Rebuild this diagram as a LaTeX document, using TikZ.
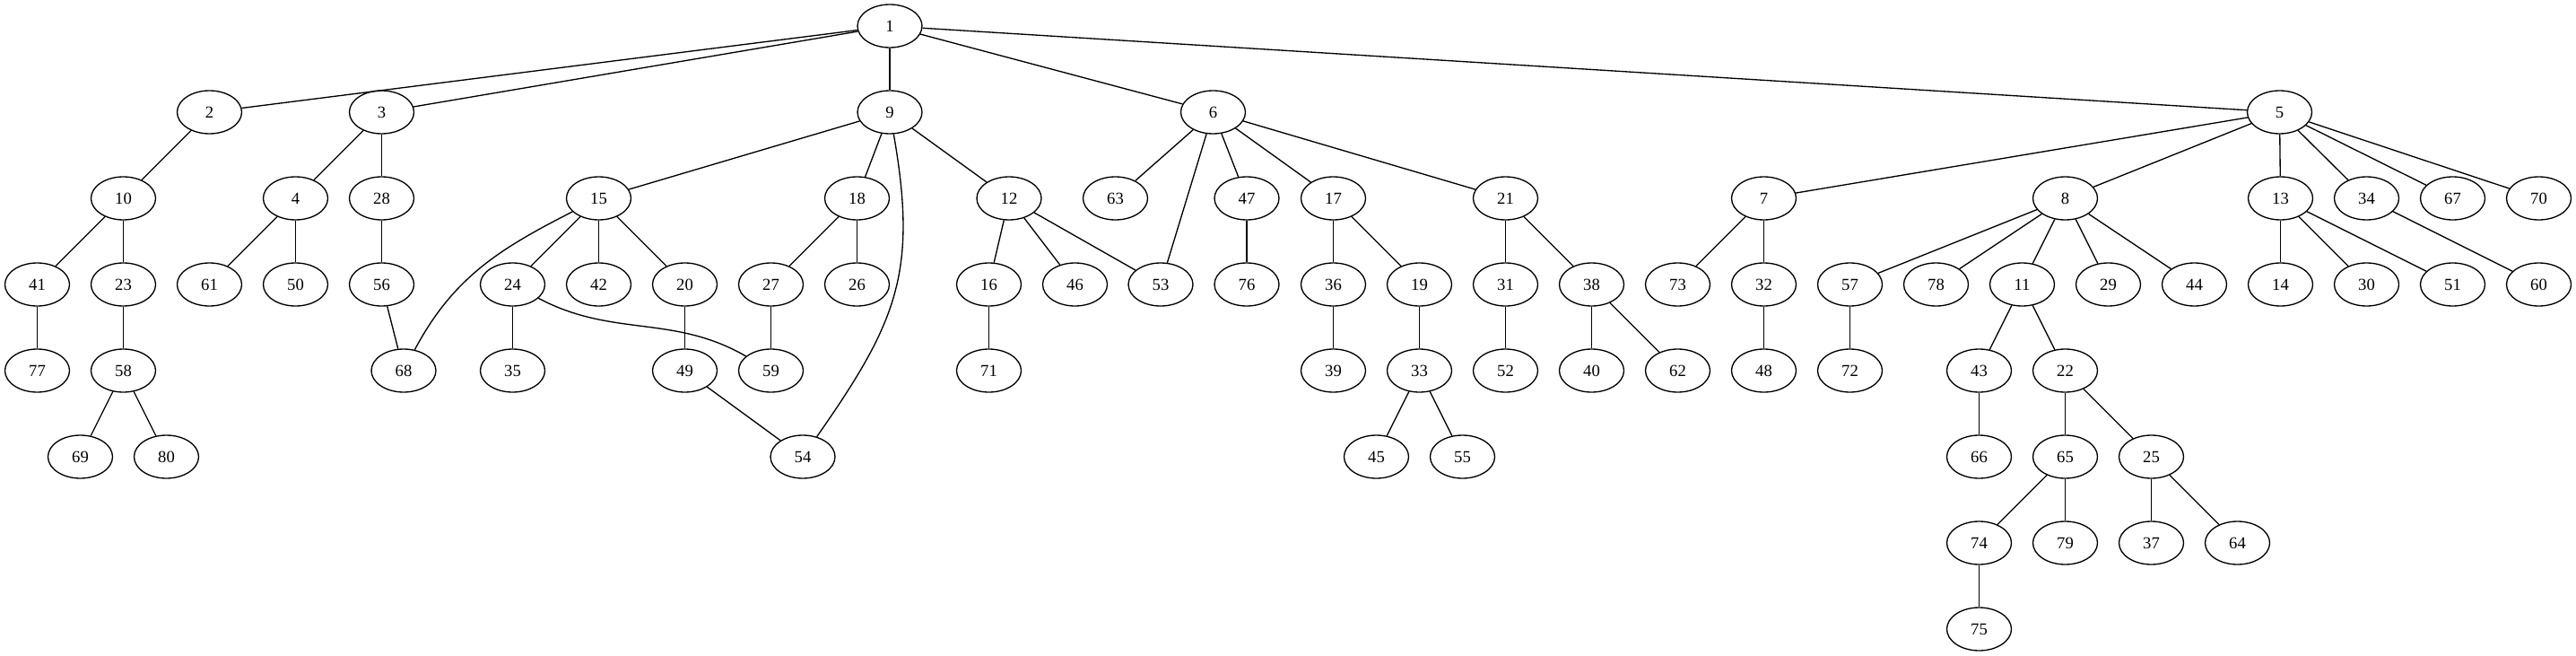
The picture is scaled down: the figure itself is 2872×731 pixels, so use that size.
\documentclass[tikz,border=0pt]{standalone}
\usepackage{fontspec}
\setmainfont{Liberation Serif}
\usetikzlibrary{shapes.geometric}
\begin{document}
\begin{tikzpicture}[x=0.75pt,y=0.75pt,line width=1pt]
\tikzstyle{every node}+=[inner sep=0pt]
\tikzstyle{vertex}=[draw,ellipse,minimum width=54pt,minimum height=36pt,font=\fontsize{14}{16}\selectfont]
\useasboundingbox (0,0) rectangle (2872,-731);
% rank 0 and 1
\draw (992,-29) node [vertex] (n1) {1};
\draw (233.5,-125) node [vertex] (n2) {2};
\draw (425.5,-125) node [vertex] (n3) {3};
\draw (992,-125) node [vertex] (n9) {9};
\draw (1352.5,-125) node [vertex] (n6) {6};
\draw (2541.5,-125) node [vertex] (n5) {5};
% rank 2
\draw (137.5,-221) node [vertex] (n10) {10};
\draw (329.5,-221) node [vertex] (n4) {4};
\draw (425.5,-221) node [vertex] (n28) {28};
\draw (667.5,-221) node [vertex] (n15) {15};
\draw (955.5,-221) node [vertex] (n18) {18};
\draw (1125,-221) node [vertex] (n12) {12};
\draw (1243.5,-221) node [vertex] (n63) {63};
\draw (1390,-221) node [vertex] (n47) {47};
\draw (1486.5,-221) node [vertex] (n17) {17};
\draw (1678.5,-221) node [vertex] (n21) {21};
\draw (1966.5,-221) node [vertex] (n7) {7};
\draw (2302.5,-221) node [vertex] (n8) {8};
\draw (2542.5,-221) node [vertex] (n13) {13};
\draw (2638.5,-221) node [vertex] (n34) {34};
\draw (2734.5,-221) node [vertex] (n67) {67};
\draw (2830.5,-221) node [vertex] (n70) {70};
% rank 3
\draw (41.5,-317) node [vertex] (n41) {41};
\draw (137.5,-317) node [vertex] (n23) {23};
\draw (233.5,-317) node [vertex] (n61) {61};
\draw (329.5,-317) node [vertex] (n50) {50};
\draw (425.5,-317) node [vertex] (n56) {56};
\draw (571.5,-317) node [vertex] (n24) {24};
\draw (667.5,-317) node [vertex] (n42) {42};
\draw (763.5,-317) node [vertex] (n20) {20};
\draw (859.5,-317) node [vertex] (n27) {27};
\draw (955.5,-317) node [vertex] (n26) {26};
\draw (1102.5,-317) node [vertex] (n16) {16};
\draw (1198.5,-317) node [vertex] (n46) {46};
\draw (1294,-317) node [vertex] (n53) {53};
\draw (1390,-317) node [vertex] (n76) {76};
\draw (1486.5,-317) node [vertex] (n36) {36};
\draw (1582.5,-317) node [vertex] (n19) {19};
\draw (1678.5,-317) node [vertex] (n31) {31};
\draw (1774.5,-317) node [vertex] (n38) {38};
\draw (1870.5,-317) node [vertex] (n73) {73};
\draw (1966.5,-317) node [vertex] (n32) {32};
\draw (2062.5,-317) node [vertex] (n57) {57};
\draw (2158.5,-317) node [vertex] (n78) {78};
\draw (2254.5,-317) node [vertex] (n11) {11};
\draw (2350.5,-317) node [vertex] (n29) {29};
\draw (2446.5,-317) node [vertex] (n44) {44};
\draw (2542.5,-317) node [vertex] (n14) {14};
\draw (2638.5,-317) node [vertex] (n30) {30};
\draw (2734.5,-317) node [vertex] (n51) {51};
\draw (2830.5,-317) node [vertex] (n60) {60};
% rank 4
\draw (41.5,-413) node [vertex] (n77) {77};
\draw (137.5,-413) node [vertex] (n58) {58};
\draw (450,-413) node [vertex] (n68) {68};
\draw (571.5,-413) node [vertex] (n35) {35};
\draw (763.5,-413) node [vertex] (n49) {49};
\draw (859.5,-413) node [vertex] (n59) {59};
\draw (1102.5,-413) node [vertex] (n71) {71};
\draw (1486.5,-413) node [vertex] (n39) {39};
\draw (1582.5,-413) node [vertex] (n33) {33};
\draw (1678.5,-413) node [vertex] (n52) {52};
\draw (1774.5,-413) node [vertex] (n40) {40};
\draw (1870.5,-413) node [vertex] (n62) {62};
\draw (1966.5,-413) node [vertex] (n48) {48};
\draw (2062.5,-413) node [vertex] (n72) {72};
\draw (2206.5,-413) node [vertex] (n43) {43};
\draw (2302.5,-413) node [vertex] (n22) {22};
% rank 5 to 7
\draw (89.5,-509) node [vertex] (n69) {69};
\draw (185.5,-509) node [vertex] (n80) {80};
\draw (895,-509) node [vertex] (n54) {54};
\draw (1534.5,-509) node [vertex] (n45) {45};
\draw (1630.5,-509) node [vertex] (n55) {55};
\draw (2206.5,-509) node [vertex] (n66) {66};
\draw (2302.5,-509) node [vertex] (n65) {65};
\draw (2398.5,-509) node [vertex] (n25) {25};
\draw (2206.5,-605) node [vertex] (n74) {74};
\draw (2302.5,-605) node [vertex] (n79) {79};
\draw (2398.5,-605) node [vertex] (n37) {37};
\draw (2494.5,-605) node [vertex] (n64) {64};
\draw (2206.5,-701) node [vertex] (n75) {75};
% edges
\draw [black] (n1) -- (n2);
\draw [black] (n1) -- (n3);
\draw [black] (n1) -- (n9);
\draw [black] (n1) -- (n6);
\draw [black] (n1) -- (n5);
\draw [black] (n2) -- (n10);
\draw [black] (n3) -- (n4);
\draw [black] (n3) -- (n28);
\draw [black] (n9) -- (n15);
\draw [black] (n9) -- (n18);
\draw [black] (n9) -- (n12);
\draw [black] (n9) to [out=-80,in=55,looseness=1.15] (n54);
\draw [black] (n6) -- (n63);
\draw [black] (n6) -- (n53);
\draw [black] (n6) -- (n47);
\draw [black] (n6) -- (n17);
\draw [black] (n6) -- (n21);
\draw [black] (n5) -- (n7);
\draw [black] (n5) -- (n8);
\draw [black] (n5) -- (n13);
\draw [black] (n5) -- (n34);
\draw [black] (n5) -- (n67);
\draw [black] (n5) -- (n70);
\draw [black] (n10) -- (n41);
\draw [black] (n10) -- (n23);
\draw [black] (n4) -- (n61);
\draw [black] (n4) -- (n50);
\draw [black] (n28) -- (n56);
\draw [black] (n15) to [out=-153,in=62] (n68);
\draw [black] (n15) -- (n24);
\draw [black] (n15) -- (n42);
\draw [black] (n15) -- (n20);
\draw [black] (n18) -- (n27);
\draw [black] (n18) -- (n26);
\draw [black] (n12) -- (n16);
\draw [black] (n12) -- (n46);
\draw [black] (n12) -- (n53);
\draw [black] (n47) -- (n76);
\draw [black] (n17) -- (n36);
\draw [black] (n17) -- (n19);
\draw [black] (n21) -- (n31);
\draw [black] (n21) -- (n38);
\draw [black] (n7) -- (n73);
\draw [black] (n7) -- (n32);
\draw [black] (n8) -- (n57);
\draw [black] (n8) -- (n78);
\draw [black] (n8) -- (n11);
\draw [black] (n8) -- (n29);
\draw [black] (n8) -- (n44);
\draw [black] (n13) -- (n14);
\draw [black] (n13) -- (n30);
\draw [black] (n13) -- (n51);
\draw [black] (n34) -- (n60);
\draw [black] (n41) -- (n77);
\draw [black] (n23) -- (n58);
\draw [black] (n56) -- (n68);
\draw [black] (n24) -- (n35);
\draw [black] (n24) to [out=-28,in=150] (n59);
\draw [black] (n20) -- (n49);
\draw [black] (n27) -- (n59);
\draw [black] (n16) -- (n71);
\draw [black] (n36) -- (n39);
\draw [black] (n19) -- (n33);
\draw [black] (n31) -- (n52);
\draw [black] (n38) -- (n40);
\draw [black] (n38) -- (n62);
\draw [black] (n32) -- (n48);
\draw [black] (n57) -- (n72);
\draw [black] (n11) -- (n43);
\draw [black] (n11) -- (n22);
\draw [black] (n58) -- (n69);
\draw [black] (n58) -- (n80);
\draw [black] (n49) -- (n54);
\draw [black] (n33) -- (n45);
\draw [black] (n33) -- (n55);
\draw [black] (n43) -- (n66);
\draw [black] (n22) -- (n65);
\draw [black] (n22) -- (n25);
\draw [black] (n65) -- (n74);
\draw [black] (n65) -- (n79);
\draw [black] (n25) -- (n37);
\draw [black] (n25) -- (n64);
\draw [black] (n74) -- (n75);
\end{tikzpicture}
\end{document}
